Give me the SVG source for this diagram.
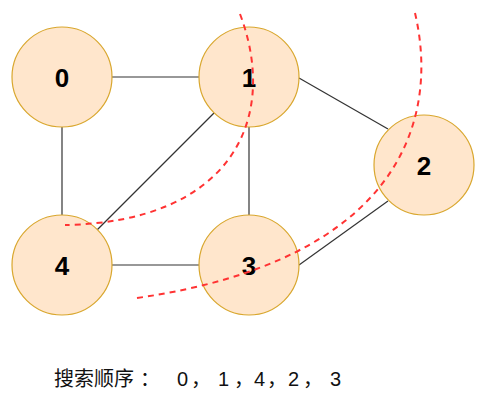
<svg xmlns="http://www.w3.org/2000/svg" width="493" height="406" viewBox="0 0 493 406">
<style>
.node circle{fill:#ffe6cc;stroke:#d9a72e;stroke-width:1.2}
.node text{font-family:"Liberation Sans",Arial,sans-serif;font-weight:bold;font-size:26px;fill:#000;text-anchor:middle}
.edge{stroke:#333;stroke-width:1.2;fill:none}
.cut{stroke:#ff3333;stroke-width:2;stroke-dasharray:6 5;fill:none}
.caption{font-family:"Liberation Sans","Noto Sans CJK SC",sans-serif;font-size:20px;fill:#111}
</style>
<rect width="493" height="406" fill="#fff"/>
<g id="connectors">
<line class="edge" x1="112" y1="77" x2="199" y2="77"/>
<line class="edge" x1="62" y1="127" x2="62" y2="215"/>
<line class="edge" x1="249" y1="127" x2="249" y2="215"/>
<line class="edge" x1="112" y1="265" x2="199" y2="265"/>
<line class="edge" x1="299" y1="78" x2="388" y2="129"/>
<line class="edge" x1="388" y1="201" x2="299" y2="265"/>
<line class="edge" x1="214" y1="113" x2="97" y2="230"/>
</g>
<g id="node0" class="node"><circle cx="62" cy="77" r="50"/><text x="62" y="87">0</text></g>
<g id="node1" class="node"><circle cx="249" cy="77" r="50"/><text x="249" y="87">1</text></g>
<g id="node2" class="node"><circle cx="424" cy="165" r="50"/><text x="424" y="175">2</text></g>
<g id="node3" class="node"><circle cx="249" cy="265" r="50"/><text x="249" y="275">3</text></g>
<g id="node4" class="node"><circle cx="62" cy="265" r="50"/><text x="62" y="275">4</text></g>
<g id="cuts">
<path class="cut" d="M240,14 C280,120 230,222 65,225"/>
<path class="cut" d="M415,13 C440,120 400,260 137,298"/>
</g>
<text class="caption" y="386"><tspan x="54">搜索顺序</tspan><tspan x="140">：</tspan><tspan x="177">0</tspan><tspan x="191">，</tspan><tspan x="218">1</tspan><tspan x="234">，</tspan><tspan x="254">4</tspan><tspan x="267">，</tspan><tspan x="288">2</tspan><tspan x="303">，</tspan><tspan x="330">3</tspan></text>
</svg>
